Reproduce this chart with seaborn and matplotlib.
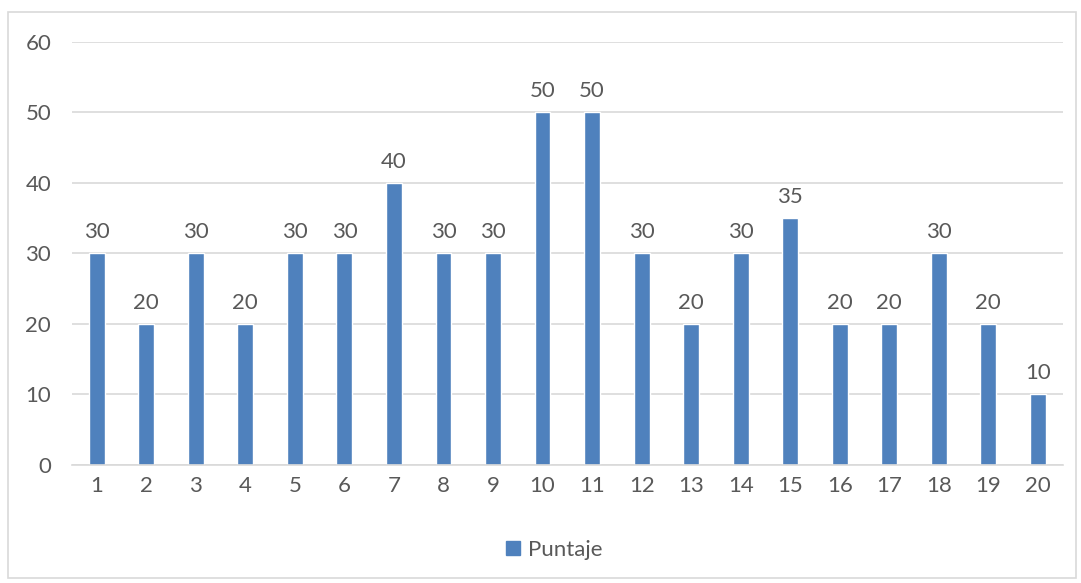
import matplotlib
matplotlib.use("Agg")
import matplotlib.pyplot as plt
from matplotlib.patches import Rectangle
import seaborn as sns
import pandas as pd

# Scores per participant
participantes = [str(i) for i in range(1, 21)]
puntaje = [30, 20, 30, 20, 30, 30, 40, 30, 30, 50, 50, 30, 20, 30, 35, 20, 20, 30, 20, 10]
serie = "Puntaje"
y_ticks = [0, 10, 20, 30, 40, 50, 60]

df = pd.DataFrame({"participante": participantes, "valor": puntaje, "serie": serie})

sns.set_theme(style="white")
plt.rcParams["font.family"] = ["Lato", "DejaVu Sans"]

text_color = "#595959"
grid_color = "#D9D9D9"
bar_color = "#4F81BD"
fs = 16

fig = plt.figure(figsize=(10.81, 5.83), dpi=100)
ax = fig.add_axes([0.0666, 0.2024, 0.9164, 0.7256])

sns.barplot(data=df, x="participante", y="valor", hue="serie", order=participantes,
            palette=[bar_color], width=0.32, dodge=False, ax=ax, legend=False,
            saturation=1)

ax.set_ylim(0, 60)
ax.set_xlim(-0.5, len(participantes) - 0.5)
ax.set_yticks(y_ticks)
ax.yaxis.grid(True, color=grid_color, linewidth=1.2)
ax.set_axisbelow(True)
for side in ["left", "right", "top"]:
    ax.spines[side].set_visible(False)
ax.spines["bottom"].set_color(grid_color)
ax.spines["bottom"].set_linewidth(1.2)
ax.tick_params(axis="both", length=0, labelsize=fs, colors=text_color)
ax.tick_params(axis="y", pad=15)
ax.tick_params(axis="x", pad=8)
ax.set_xlabel("")
ax.set_ylabel("")

for cont in ax.containers:
    ax.bar_label(cont, labels=[str(v) for v in puntaje], padding=8,
                 fontsize=fs, color=text_color)

handle = Rectangle((0, 0), 1, 1, color=bar_color)
fig.legend([handle], [serie], loc="center", bbox_to_anchor=(0.513, 0.057),
           frameon=False, fontsize=fs, labelcolor=text_color,
           handlelength=0.6, handleheight=0.6, handletextpad=0.4)

# Chart area border
fig.patches.append(Rectangle((8 / 1081, 5 / 583), 1068 / 1081, 566 / 583,
                             transform=fig.transFigure, fill=False,
                             edgecolor=grid_color, linewidth=1.2))

fig.savefig("out.png", dpi=100)
